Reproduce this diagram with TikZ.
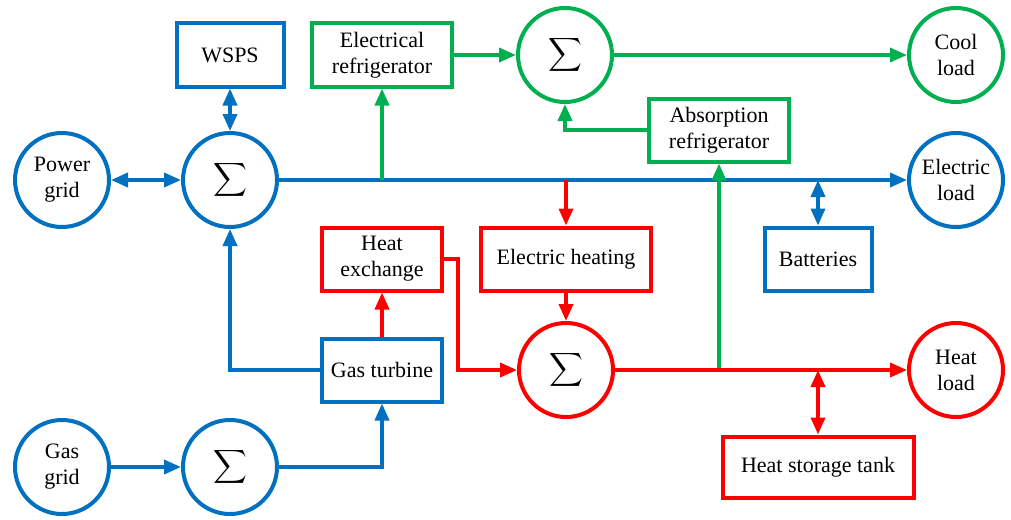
\documentclass[tikz,border=0pt]{standalone}
\usepackage{fontspec}
\setmainfont{Liberation Serif}
\usetikzlibrary{arrows.meta}
\definecolor{cblue}{RGB}{0,112,192}
\definecolor{cgreen}{RGB}{0,176,80}
\definecolor{cred}{RGB}{255,0,0}
\newcommand{\mysig}{\scalebox{2.35}{$\displaystyle\sum$}}
\begin{document}
\begin{tikzpicture}[x=1pt,y=-1pt,
 base/.style={line width=4pt, font=\rmfamily\fontsize{22}{26}\selectfont, align=center, inner sep=0pt},
 circ/.style={base, circle, minimum size=94pt},
 box/.style={base, rectangle, minimum height=63pt},
 arr/.style={line width=3.6pt, -{Triangle[length=17pt,width=14pt]}},
 darr/.style={line width=3.6pt, {Triangle[length=17pt,width=14pt]}-{Triangle[length=17pt,width=14pt]}},
]
\useasboundingbox (0,0) rectangle (1011,519);
% nodes
\node[circ, draw=cblue] (pg) at (62,180) {Power\\grid};
\node[circ, draw=cblue] (s1) at (230,180) {\mysig};
\node[box, draw=cblue, minimum width=107pt] (wsps) at (230,55) {WSPS};
\node[box, draw=cgreen, minimum width=140pt] (er) at (382,55) {Electrical\\refrigerator};
\node[circ, draw=cgreen] (gs) at (565,55) {\mysig};
\node[circ, draw=cgreen] (cl) at (956,55) {Cool\\load};
\node[box, draw=cgreen, minimum width=140pt] (ab) at (719,130) {Absorption\\refrigerator};
\node[circ, draw=cblue] (el) at (956,180) {Electric\\load};
\node[box, draw=cred, minimum width=120pt] (he) at (382,259) {Heat\\exchange};
\node[box, draw=cred, minimum width=170pt] (eh) at (566,259) {Electric heating};
\node[box, draw=cblue, minimum width=107pt] (bat) at (818,259) {Batteries};
\node[box, draw=cblue, minimum width=120pt] (gt) at (382,370) {Gas turbine};
\node[circ, draw=cred] (rs) at (566,370) {\mysig};
\node[circ, draw=cred] (hl) at (956,370) {Heat\\load};
\node[box, draw=cred, minimum width=191pt, minimum height=61pt] (hst) at (818,467) {Heat storage tank};
\node[circ, draw=cblue] (gg) at (62,467) {Gas\\grid};
\node[circ, draw=cblue] (gsum) at (230,467) {\mysig};
% junction coordinates
\coordinate (jer) at (er.south |- s1.east);
\coordinate (jeh) at (eh.north |- s1.east);
\coordinate (jbat) at (bat.north |- s1.east);
\coordinate (jab) at (ab.south |- rs.east);
\coordinate (jhst) at (hst.north |- rs.east);
% connectors
\draw[darr, cblue] (pg) -- (s1);
\draw[darr, cblue] (wsps) -- (s1);
\draw[arr, cblue] (s1) -- (el);
\draw[arr, cgreen] (jer) -- (er.south);
\draw[arr, cred] (jeh) -- (eh.north);
\draw[darr, cblue] (jbat) -- (bat.north);
\draw[arr, cgreen] (er) -- (gs);
\draw[arr, cgreen] (gs) -- (cl);
\draw[arr, cgreen] (ab.west) -| (gs.south);
\draw[arr, cgreen] (jab) -- (ab.south);
\draw[arr, cblue] (gt.west) -| (s1.south);
\draw[arr, cred] (gt) -- (he);
\draw[arr, cred] (he.east) -- ++(14,0) |- (rs.west);
\draw[arr, cred] (eh) -- (rs);
\draw[arr, cred] (rs) -- (hl);
\draw[darr, cred] (jhst) -- (hst.north);
\draw[arr, cblue] (gg) -- (gsum);
\draw[arr, cblue] (gsum.east) -| (gt.south);
\end{tikzpicture}
\end{document}
